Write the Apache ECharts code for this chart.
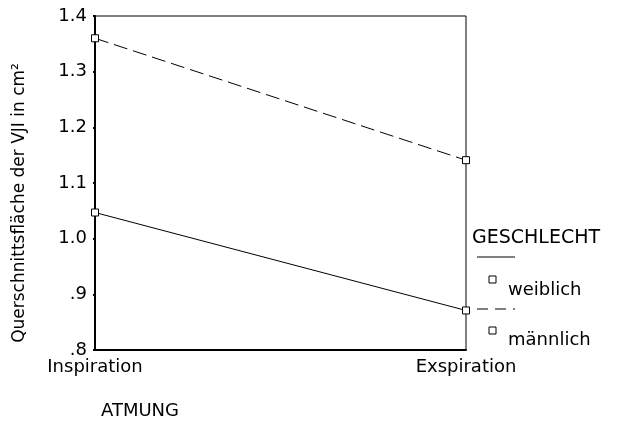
<!DOCTYPE html>
<html>
<head>
<meta charset="utf-8">
<script src="https://cdn.jsdelivr.net/npm/echarts@6/dist/echarts.min.js"></script>
<style>
  html, body { margin: 0; padding: 0; background: #fff; }
  #chart { width: 630px; height: 423px; }
</style>
</head>
<body>
<div id="chart"></div>
<script>
const categories = ["Inspiration", "Exspiration"];
const weiblich = [1.047, 0.871];
const maennlich = [1.36, 1.141];
const yTicks = [0.8, 0.9, 1.0, 1.1, 1.2, 1.3, 1.4];

const font = "DejaVu Sans, Liberation Sans, sans-serif";
const dash = [14, 6];
const chart = echarts.init(document.getElementById("chart"));

// SPSS style: ".9" instead of "0.9"
const fmt = (v) => {
  const s = Number(v).toFixed(1);
  return v < 1 ? s.replace(/^0/, "") : s;
};

chart.setOption({
  animation: false,
  grid: {
    left: 95, right: 164, top: 16, bottom: 73,
    show: true, borderColor: "#000", borderWidth: 1
  },
  xAxis: {
    type: "category",
    data: categories,
    boundaryGap: false,
    axisLine: { lineStyle: { color: "#000", width: 2 } },
    axisTick: { show: false },
    axisLabel: { color: "#000", fontSize: 18, fontFamily: font, margin: 8 },
    splitLine: { show: false }
  },
  yAxis: {
    type: "value",
    min: yTicks[0],
    max: yTicks[yTicks.length - 1],
    interval: 0.1,
    axisLine: { show: true, lineStyle: { color: "#000", width: 2 } },
    axisTick: { show: true, length: 2, lineStyle: { color: "#000", width: 2 } },
    axisLabel: { color: "#000", fontSize: 18, fontFamily: font, margin: 8, formatter: fmt },
    splitLine: { show: false }
  },
  series: [
    {
      name: "weiblich",
      type: "line",
      data: weiblich,
      symbol: "rect",
      symbolSize: 7,
      lineStyle: { color: "#000", width: 1, type: "solid" },
      itemStyle: { color: "#fff", borderColor: "#000", borderWidth: 1 }
    },
    {
      name: "männlich",
      type: "line",
      data: maennlich,
      symbol: "rect",
      symbolSize: 7,
      lineStyle: { color: "#000", width: 1, type: dash },
      itemStyle: { color: "#fff", borderColor: "#000", borderWidth: 1 }
    }
  ],
  graphic: [
    {
      type: "text", x: 20, y: 203, rotation: Math.PI / 2,
      style: { text: "Querschnittsfläche der VJI in cm²", fill: "#000", font: "17px " + font, align: "center", verticalAlign: "middle" }
    },
    {
      type: "text", x: 140, y: 411,
      style: { text: "ATMUNG", fill: "#000", font: "18px " + font, align: "center", verticalAlign: "middle" }
    },
    {
      type: "text", x: 472, y: 238,
      style: { text: "GESCHLECHT", fill: "#000", font: "19px " + font, align: "left", verticalAlign: "middle" }
    },
    { type: "line", shape: { x1: 477, y1: 257, x2: 515, y2: 257 }, style: { stroke: "#000", lineWidth: 1 } },
    { type: "rect", shape: { x: 489, y: 276, width: 7, height: 7 }, style: { fill: "#fff", stroke: "#000", lineWidth: 1 } },
    {
      type: "text", x: 508, y: 290,
      style: { text: "weiblich", fill: "#000", font: "18px " + font, align: "left", verticalAlign: "middle" }
    },
    { type: "line", shape: { x1: 477, y1: 309, x2: 515, y2: 309 }, style: { stroke: "#000", lineWidth: 1, lineDash: [11, 7] } },
    { type: "rect", shape: { x: 489, y: 327, width: 7, height: 7 }, style: { fill: "#fff", stroke: "#000", lineWidth: 1 } },
    {
      type: "text", x: 508, y: 340,
      style: { text: "männlich", fill: "#000", font: "18px " + font, align: "left", verticalAlign: "middle" }
    }
  ]
});
</script>
</body>
</html>
